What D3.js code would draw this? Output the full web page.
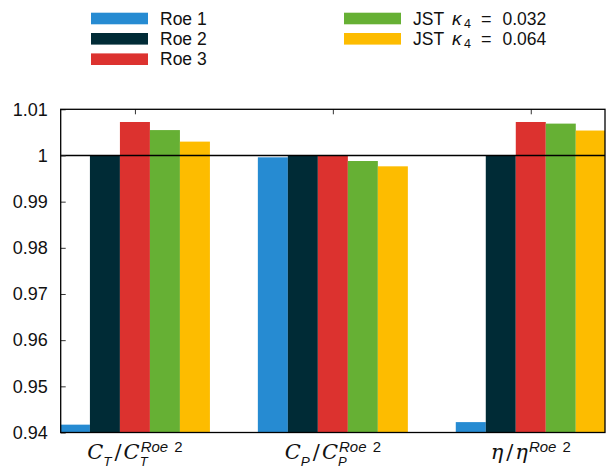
<!DOCTYPE html>
<html><head><meta charset="utf-8">
<script src="https://cdn.jsdelivr.net/npm/d3@7"></script>
<style>body{margin:0;background:#fff}svg{display:block}text{font-family:"Liberation Sans",Arial,sans-serif}</style>
</head><body>
<script>
const categories = ["CT","CP","eta"];
const seriesNames = ["Roe 1","Roe 2","Roe 3","JST 0.032","JST 0.064"];
const seriesColors = ["#268bd2","#002b36","#dc322f","#66b034","#fdbc00"];
const roe1 = [0.9417, 0.9996, 0.94225];
const roe2 = [1.0, 1.0, 1.0];
const roe3 = [1.00725, 0.9999, 1.00725];
const jst032 = [1.0055, 0.9988, 1.0069];
const jst064 = [1.003, 0.99765, 1.0054];
const yTicks = [0.94,0.95,0.96,0.97,0.98,0.99,1,1.01];
const yTickLabels = ["0.94","0.95","0.96","0.97","0.98","0.99","1","1.01"];
const series = [roe1, roe2, roe3, jst032, jst064];

const W = 607, H = 468;
const svg = d3.select("body").append("svg").attr("width", W).attr("height", H);
const pL = 60.7, pR = 605, pT = 109.3, pB = 432.5;
const x = d3.scaleLinear().domain([-0.375, 2.375]).range([pL, pR]);
const y = d3.scaleLinear().domain([0.94, 1.01]).range([pB, pT]);
const barW = 30;

svg.append("defs").append("clipPath").attr("id","clip")
  .append("rect").attr("x", pL).attr("y", pT).attr("width", pR-pL).attr("height", pB-pT);

const g = svg.append("g").attr("clip-path","url(#clip)");
series.forEach((vals, si) => {
  g.selectAll(null).data(vals).enter().append("rect")
    .attr("x", (d,i) => x(i) + (si-2.5)*barW)
    .attr("width", barW)
    .attr("y", d => y(d))
    .attr("height", d => y(0.94) - y(d) + 2)
    .attr("fill", seriesColors[si]);
});

// line at 1
svg.append("line").attr("x1", pL).attr("x2", pR).attr("y1", y(1)).attr("y2", y(1))
  .attr("stroke","#000").attr("stroke-width",1.6);

// axes
const yAxis = d3.axisLeft(y).tickValues(yTicks).tickFormat((d,i)=>yTickLabels[i]).tickSizeInner(-5).tickSizeOuter(0).tickPadding(13);
const ya = svg.append("g").attr("transform",`translate(${pL},0)`).call(yAxis);
ya.select(".domain").remove();
ya.selectAll("text").attr("font-size",18).attr("fill","#111");
ya.selectAll("line").attr("stroke","#333");

const xTop = d3.axisTop(x).tickValues([0,1,2]).tickFormat("").tickSizeInner(-5).tickSizeOuter(0);
const xt = svg.append("g").attr("transform",`translate(0,${pT})`).call(xTop);
xt.select(".domain").remove();
xt.selectAll("line").attr("stroke","#333");

svg.append("rect").attr("x", pL).attr("y", pT).attr("width", pR-pL).attr("height", pB-pT)
  .attr("fill","none").attr("stroke","#000").attr("stroke-width",1.3);

// x labels (one text element each, sub/superscript stacked via tspans)
const labY = 458.5;
const mathFont = "DejaVu Serif, serif";
function rightEdge(t) { const b = t.node().getBBox(); return b.x + b.width; }
function label2(cx, base, sub) {
  const t = svg.append("text").attr("x", 0).attr("y", labY).attr("font-size",21).attr("fill","#111");
  t.append("tspan").attr("font-style","italic").attr("font-family",mathFont).text(base);
  if (sub) t.append("tspan").attr("font-size",13.5).attr("font-style","italic").attr("dy",7).text(sub);
  t.append("tspan").attr("dy", sub ? -7 : 0).attr("dx",3).attr("font-family",mathFont).text("/");
  t.append("tspan").attr("dx",2).attr("font-style","italic").attr("font-family",mathFont).text(base);
  const w0 = rightEdge(t);
  let supDy = -6.5;
  if (sub) {
    t.append("tspan").attr("x", w0).attr("font-size",13).attr("font-style","italic").attr("dy",7.5).text(sub);
    t.append("tspan").attr("x", w0 + 1).attr("font-size",15).attr("font-style","italic").attr("dy",-7.5 + supDy).text("Roe ");
  } else {
    t.append("tspan").attr("dx", 1).attr("font-size",15).attr("font-style","italic").attr("dy",supDy).text("Roe ");
  }
  t.append("tspan").attr("font-size",15).attr("dx",2).text("2");
  const wAll = rightEdge(t);
  t.attr("transform", `translate(${cx - wAll/2},0)`);
}
label2(x(0), "C", "T");
label2(x(1), "C", "P");
label2(x(2), "η", null);

// legend
const legItems = [
  {c:0, r:0, s:0, text:"Roe 1"},
  {c:0, r:1, s:1, text:"Roe 2"},
  {c:0, r:2, s:2, text:"Roe 3"},
  {c:1, r:0, s:3, text:"0.032"},
  {c:1, r:1, s:4, text:"0.064"}
];
const colX = [91, 344], rowY = [18.5, 38.8, 59.2];
legItems.forEach(it => {
  const gx = colX[it.c], gy = rowY[it.r];
  svg.append("rect").attr("x", gx).attr("y", gy-5.8).attr("width", 57).attr("height", 11.6).attr("fill", seriesColors[it.s]);
  const ty = gy + 6.2;
  if (it.c === 0) {
    svg.append("text").attr("x", gx+69).attr("y", ty).attr("font-size",17.5).attr("fill","#111").text(it.text);
  } else {
    svg.append("text").attr("x", gx+69).attr("y", ty).attr("font-size",17.5).attr("fill","#111").text("JST");
    svg.append("text").attr("x", gx+108).attr("y", ty).attr("font-size",19).attr("font-style","italic").attr("font-family",mathFont).attr("fill","#111").text("κ");
    svg.append("text").attr("x", gx+120).attr("y", ty+3).attr("font-size",12.5).attr("fill","#111").text("4");
    svg.append("text").attr("x", gx+137).attr("y", ty).attr("font-size",18).attr("font-family","DejaVu Sans, sans-serif").attr("fill","#111").text("=");
    svg.append("text").attr("x", gx+158.5).attr("y", ty).attr("font-size",17.5).attr("fill","#111").text(it.text);
  }
});
</script>
</body></html>
